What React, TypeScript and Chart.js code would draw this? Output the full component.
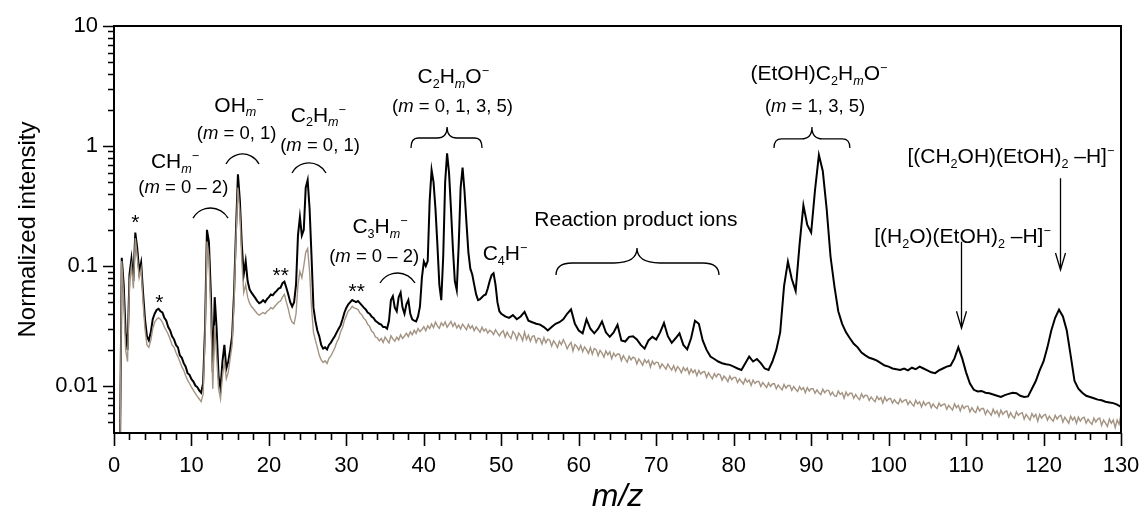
import React, { useEffect, useRef } from 'react';
import { Chart, registerables } from 'chart.js';

Chart.register(...registerables);

const FONT = '"Liberation Sans", Arial, Helvetica, sans-serif';

// m/z grids
const MZ_FINE_START = 0.5; // fine part 0.5..50, step 0.25 (both series)
const MZ_FINE_STEP = 0.25;
const MZ_BLACK_TAIL_START = 50.5; // black tail 50.5..130, step 0.5
const MZ_BLACK_TAIL_STEP = 0.5;
const MZ_GRAY_TAIL_START = 50.25; // gray tail 50.25..130, step 0.25
const MZ_GRAY_TAIL_STEP = 0.25;

// Black spectrum (with ethanol)
const blackFine = [
  0.002, 0.002,
  0.117, 0.07, 0.028, 0.02,
  0.085, 0.115, 0.075, 0.19,
  0.14, 0.09, 0.107, 0.06,
  0.036, 0.026, 0.024, 0.028,
  0.036, 0.04, 0.043, 0.044,
  0.042, 0.041, 0.037, 0.035,
  0.031, 0.029, 0.026, 0.0245,
  0.022, 0.021, 0.018, 0.0172,
  0.0155, 0.0145, 0.0128, 0.0124,
  0.0114, 0.0109, 0.0101, 0.0098,
  0.0092, 0.0088, 0.0105, 0.03,
  0.2, 0.16, 0.06, 0.013,
  0.055, 0.03, 0.012, 0.0095,
  0.016, 0.022, 0.014, 0.016,
  0.02, 0.026, 0.06, 0.2,
  0.58, 0.35, 0.15, 0.085,
  0.11, 0.075, 0.064, 0.06,
  0.057, 0.054, 0.051, 0.049,
  0.05, 0.052, 0.05, 0.053,
  0.055, 0.058, 0.057, 0.06,
  0.062, 0.065, 0.066, 0.072,
  0.074, 0.066, 0.058, 0.05,
  0.046, 0.05, 0.07, 0.18,
  0.256, 0.18, 0.2, 0.45,
  0.52, 0.3, 0.12, 0.045,
  0.035, 0.029, 0.026, 0.022,
  0.0205, 0.021, 0.0202, 0.022,
  0.023, 0.0245, 0.026, 0.028,
  0.03, 0.032, 0.036, 0.041,
  0.045, 0.048, 0.05, 0.052,
  0.051, 0.05, 0.051, 0.049,
  0.047, 0.045, 0.0435, 0.041,
  0.04, 0.038, 0.037, 0.035,
  0.034, 0.033, 0.0325, 0.031,
  0.031, 0.03, 0.035, 0.052,
  0.056, 0.045, 0.042, 0.055,
  0.06, 0.045, 0.04, 0.048,
  0.052, 0.04, 0.036, 0.035,
  0.0345, 0.038, 0.046, 0.08,
  0.109, 0.1, 0.11, 0.35,
  0.63, 0.5, 0.3, 0.15,
  0.07, 0.052, 0.12, 0.5,
  0.87, 0.6, 0.3, 0.14,
  0.075, 0.063, 0.15, 0.45,
  0.66, 0.42, 0.23, 0.13,
  0.095, 0.085, 0.07, 0.058,
  0.052, 0.053, 0.055, 0.057,
  0.058, 0.065, 0.075, 0.084,
  0.087, 0.07, 0.05, 0.042,
  0.04,
];

const blackTail = [
  0.038, 0.037, 0.039, 0.036, 0.038, 0.0415, 0.035, 0.034, 0.033, 0.0325,
  0.031, 0.029, 0.031, 0.033, 0.034, 0.036, 0.04, 0.0435, 0.033, 0.029,
  0.0275, 0.036, 0.03, 0.0275, 0.03, 0.0345, 0.028, 0.0257, 0.028, 0.0324,
  0.024, 0.0235, 0.0257, 0.026, 0.0244, 0.022, 0.0205, 0.024, 0.0257, 0.0244,
  0.028, 0.0335, 0.026, 0.0229, 0.025, 0.0275, 0.022, 0.0202, 0.025, 0.035,
  0.033, 0.024, 0.02, 0.0176, 0.0168, 0.016, 0.0155, 0.0152, 0.015, 0.0145,
  0.014, 0.0136, 0.0155, 0.0176, 0.016, 0.0168, 0.0155, 0.014, 0.0136, 0.016,
  0.02, 0.028, 0.068, 0.109, 0.078, 0.062, 0.15, 0.32, 0.22, 0.19,
  0.43, 0.84, 0.62, 0.3, 0.12, 0.068, 0.042, 0.033, 0.028, 0.025,
  0.0225, 0.021, 0.019, 0.018, 0.0172, 0.0168, 0.0163, 0.0155, 0.0148, 0.0145,
  0.014, 0.0138, 0.0136, 0.014, 0.0135, 0.0142, 0.0138, 0.0145, 0.014, 0.0135,
  0.013, 0.0128, 0.0135, 0.014, 0.0145, 0.0148, 0.017, 0.021, 0.017, 0.013,
  0.0105, 0.0093, 0.009, 0.0091, 0.0088, 0.0087, 0.0085, 0.0083, 0.0081, 0.0084,
  0.0086, 0.0088, 0.0087, 0.0083, 0.0081, 0.0082, 0.0095, 0.011, 0.0135, 0.016,
  0.021, 0.029, 0.037, 0.0433, 0.038, 0.029, 0.018, 0.011, 0.0095, 0.0088,
  0.0083, 0.0081, 0.0079, 0.0077, 0.0076, 0.0074, 0.0073, 0.0072, 0.007, 0.0067,
];

// Gray spectrum (background)
const grayFine = [
  0.002, 0.002,
  0.11, 0.055, 0.02, 0.016,
  0.075, 0.1, 0.065, 0.17,
  0.12, 0.08, 0.095, 0.05,
  0.03, 0.022, 0.021, 0.024,
  0.03, 0.034, 0.036, 0.037,
  0.036, 0.034, 0.031, 0.029,
  0.027, 0.0245, 0.022, 0.021,
  0.019, 0.0175, 0.016, 0.0145,
  0.0135, 0.0122, 0.0112, 0.0105,
  0.0098, 0.0092, 0.0087, 0.0082,
  0.0078, 0.0074, 0.0085, 0.025,
  0.16, 0.12, 0.04, 0.0095,
  0.032, 0.018, 0.0095, 0.0078,
  0.012, 0.016, 0.0115, 0.013,
  0.017, 0.022, 0.05, 0.17,
  0.45, 0.28, 0.11, 0.06,
  0.07, 0.055, 0.049, 0.046,
  0.044, 0.042, 0.04, 0.039,
  0.04, 0.041, 0.04, 0.042,
  0.043, 0.045, 0.044, 0.046,
  0.048, 0.05, 0.051, 0.055,
  0.058, 0.05, 0.044, 0.037,
  0.034, 0.033, 0.04, 0.07,
  0.09, 0.08, 0.1, 0.13,
  0.14, 0.09, 0.045, 0.028,
  0.024, 0.021, 0.018, 0.0165,
  0.0157, 0.0162, 0.0154, 0.017,
  0.0178, 0.0192, 0.0207, 0.0232,
  0.0248, 0.0283, 0.0306, 0.0352,
  0.0386, 0.0423, 0.0437, 0.0462,
  0.0448, 0.0441, 0.0434, 0.0405,
  0.0392, 0.0366, 0.0354, 0.0327,
  0.0314, 0.0287, 0.0278, 0.0256,
  0.0252, 0.0238, 0.0249, 0.0231,
  0.0256, 0.0241, 0.0229, 0.0262,
  0.0247, 0.0236, 0.0255, 0.0242,
  0.0268, 0.0249, 0.0261, 0.0275,
  0.0258, 0.0283, 0.0267, 0.0291,
  0.0274, 0.0301, 0.0284, 0.0296,
  0.0312, 0.0289, 0.0318, 0.0301,
  0.0329, 0.0306, 0.0341, 0.0317,
  0.0302, 0.0336, 0.0318, 0.0342,
  0.0309, 0.0327, 0.0345, 0.0314,
  0.0336, 0.0305, 0.0322, 0.0298,
  0.0328, 0.0311, 0.0294, 0.0326,
  0.0302, 0.0318, 0.0289, 0.0311,
  0.0296, 0.0281, 0.0309, 0.0287,
  0.0299, 0.0276, 0.0291, 0.0283,
  0.0268, 0.0294, 0.0277, 0.0262,
  0.0279,
];

const grayTail = [
  0.0289, 0.0256, 0.0281, 0.0262, 0.0249, 0.0284, 0.0271, 0.0243,
  0.0276, 0.0262, 0.0239, 0.0281, 0.0244, 0.0265, 0.0236, 0.0259,
  0.0262, 0.0231, 0.0251, 0.0247, 0.0224, 0.0253, 0.0229, 0.0246,
  0.0241, 0.0215, 0.0238, 0.0226, 0.0209, 0.0236, 0.0221, 0.0243,
  0.0226, 0.0204, 0.0219, 0.0231, 0.0196, 0.0222, 0.0214, 0.0199,
  0.0218, 0.0193, 0.0212, 0.0201, 0.0187, 0.0209, 0.0184, 0.0205,
  0.0201, 0.0179, 0.0198, 0.0188, 0.0174, 0.0196, 0.0182, 0.0193,
  0.0169, 0.0188, 0.0177, 0.0185, 0.0184, 0.0163, 0.0179, 0.0168,
  0.0158, 0.0177, 0.0165, 0.0174, 0.0171, 0.0153, 0.0168, 0.0159,
  0.0149, 0.0166, 0.0156, 0.0164, 0.0144, 0.0161, 0.0151, 0.0158,
  0.0157, 0.0141, 0.0153, 0.0146, 0.0138, 0.0152, 0.0143, 0.0136,
  0.0148, 0.0133, 0.0145, 0.0139, 0.0129, 0.0143, 0.0134, 0.0141,
  0.0126, 0.0138, 0.0129, 0.0136, 0.0122, 0.0135, 0.0126, 0.0131,
  0.0132, 0.0118, 0.0129, 0.0121, 0.0115, 0.0127, 0.0119, 0.0126,
  0.0124, 0.0112, 0.0121, 0.0116, 0.0109, 0.0121, 0.0113, 0.0118,
  0.0118, 0.0107, 0.0115, 0.0109, 0.0104, 0.0115, 0.0108, 0.0112,
  0.0101, 0.0112, 0.0105, 0.0109, 0.0109, 0.0099, 0.0107, 0.0102,
  0.0097, 0.0106, 0.0099, 0.0104, 0.0105, 0.0095, 0.0102, 0.0097,
  0.0093, 0.0103, 0.0096, 0.0101, 0.0101, 0.0092, 0.0099, 0.0094,
  0.009, 0.0099, 0.0093, 0.0097, 0.0088, 0.0097, 0.0091, 0.0095,
  0.0095, 0.0087, 0.0093, 0.0088, 0.0085, 0.0094, 0.0088, 0.0092,
  0.0092, 0.0084, 0.0089, 0.0083, 0.0082, 0.0091, 0.0085, 0.0088,
  0.0079, 0.0089, 0.0083, 0.0087, 0.0087, 0.0079, 0.0085, 0.008,
  0.0077, 0.0086, 0.008, 0.0084, 0.0083, 0.0076, 0.0081, 0.0077,
  0.0074, 0.0082, 0.0077, 0.008, 0.0072, 0.0081, 0.0075, 0.0078,
  0.0079, 0.0072, 0.0077, 0.0073, 0.0071, 0.0078, 0.0073, 0.0076,
  0.0077, 0.007, 0.0075, 0.0071, 0.0068, 0.0076, 0.0071, 0.0074,
  0.0067, 0.0074, 0.0069, 0.0072, 0.0073, 0.0066, 0.0071, 0.0067,
  0.0065, 0.0072, 0.0068, 0.007, 0.0071, 0.0064, 0.0069, 0.0066,
  0.0063, 0.0071, 0.0066, 0.0069, 0.0062, 0.0069, 0.0065, 0.0068,
  0.0068, 0.0061, 0.0066, 0.0062, 0.006, 0.0067, 0.0062, 0.0065,
  0.0065, 0.0058, 0.0063, 0.006, 0.0057, 0.0064, 0.0059, 0.0062,
  0.0056, 0.0063, 0.0058, 0.0061, 0.0062, 0.0055, 0.006, 0.0056,
  0.0054, 0.0061, 0.0057, 0.0059, 0.006, 0.0053, 0.0058, 0.0055,
  0.0052, 0.0059, 0.0055, 0.0058, 0.0051, 0.0058, 0.0054, 0.0057,
  0.0058, 0.0052, 0.0056, 0.0053, 0.0051, 0.0057, 0.0053, 0.0056,
  0.0057, 0.005, 0.0055, 0.0052, 0.0049, 0.0056, 0.0052, 0.0055,
  0.0049, 0.0055, 0.0051, 0.0054, 0.0055, 0.0049, 0.0053, 0.005,
  0.0048, 0.0054, 0.005, 0.0053, 0.0054, 0.0047, 0.0052, 0.0049,
  0.0046, 0.0053, 0.0049, 0.0052, 0.0045, 0.0052, 0.0048, 0.0058,
];

// Axes
const X_MIN = 0;
const X_MAX = 130;
const Y_MIN = 0.00406;
const Y_MAX = 10;
const xTickValues = [0, 10, 20, 30, 40, 50, 60, 70, 80, 90, 100, 110, 120, 130];
const yTickValues = [0.01, 0.1, 1, 10];
const yTickLabels = ['0.01', '0.1', '1', '10'];
const xTitle = 'm/z';
const yTitle = 'Normalized intensity';

// Annotations (positions in data units: m/z, intensity at text baseline)
type Run = [string, string];
const formulaLabels: { runs: Run[]; m: number; v: number }[] = [
  { runs: [['CH', 'n'], ['m', 'si'], ['\u2212', 'p']], m: 7.88, v: 0.652 },
  { runs: [['OH', 'n'], ['m', 'si'], ['\u2212', 'p']], m: 16.14, v: 1.93 },
  { runs: [['C', 'n'], ['2', 's'], ['H', 'n'], ['m', 'si'], ['\u2212', 'p']], m: 26.38, v: 1.594 },
  { runs: [['C', 'n'], ['3', 's'], ['H', 'n'], ['m', 'si'], ['\u2212', 'p']], m: 34.34, v: 0.187 },
  { runs: [['C', 'n'], ['2', 's'], ['H', 'n'], ['m', 'si'], ['O', 'n'], ['\u2212', 'p']], m: 43.8, v: 3.33 },
  { runs: [['C', 'n'], ['4', 's'], ['H', 'n'], ['\u2212', 'p']], m: 50.48, v: 0.112 },
  { runs: [['Reaction product ions', 'n']], m: 67.37, v: 0.2154 },
  { runs: [['(EtOH)C', 'n'], ['2', 's'], ['H', 'n'], ['m', 'si'], ['O', 'n'], ['\u2212', 'p']], m: 91.0, v: 3.55 },
  { runs: [['[(CH', 'n'], ['2', 's'], ['OH)(EtOH)', 'n'], ['2', 's'], [' \u2013H]', 'n'], ['\u2212', 'p']], m: 115.78, v: 0.718 },
  { runs: [['[(H', 'n'], ['2', 's'], ['O)(EtOH)', 'n'], ['2', 's'], [' \u2013H]', 'n'], ['\u2212', 'p']], m: 109.54, v: 0.1546 },
];

const rangeLabels: { runs: Run[]; m: number; v: number }[] = [
  { runs: [['(', 'n'], ['m', 'i'], [' = 0 \u2013 2)', 'n']], m: 8.95, v: 0.408 },
  { runs: [['(', 'n'], ['m', 'i'], [' = 0, 1)', 'n']], m: 15.84, v: 1.144 },
  { runs: [['(', 'n'], ['m', 'i'], [' = 0, 1)', 'n']], m: 26.6, v: 0.909 },
  { runs: [['(', 'n'], ['m', 'i'], [' = 0 \u2013 2)', 'n']], m: 33.59, v: 0.1086 },
  { runs: [['(', 'n'], ['m', 'i'], [' = 0, 1, 3, 5)', 'n']], m: 43.7, v: 1.93 },
  { runs: [['(', 'n'], ['m', 'i'], [' = 1, 3, 5)', 'n']], m: 90.5, v: 1.93 },
];

const starLabels = [
  { t: '*', m: 2.75, v: 0.203 },
  { t: '*', m: 5.84, v: 0.044 },
  { t: '**', m: 21.53, v: 0.0736 },
  { t: '**', m: 31.33, v: 0.0546 },
];

// arcs: [mLeft, mRight, vEnds, vTop]
const arcs = [
  [10.2, 14.72, 0.251, 0.304],
  [14.46, 18.72, 0.708, 0.858],
  [22.98, 27.37, 0.596, 0.722],
  [34.34, 38.86, 0.0722, 0.0874],
];

// braces: [mLeft, mRight, mTip, vEnds, vFlat, vTip]
const braces = [
  [38.34, 47.51, 43.0, 0.962, 1.166, 1.44],
  [57.06, 78.1, 67.52, 0.0841, 0.106, 0.141],
  [85.2, 95.0, 90.1, 0.962, 1.145, 1.44],
];

// arrows: [m, vFrom, vTo]
const arrows = [
  [122.13, 0.538, 0.0926],
  [109.35, 0.1594, 0.0303],
];

function toPoints(fine: number[], tail: number[], tailStart: number, tailStep: number) {
  const pts: { x: number; y: number }[] = [];
  fine.forEach((v, i) => pts.push({ x: MZ_FINE_START + i * MZ_FINE_STEP, y: v }));
  tail.forEach((v, i) => pts.push({ x: tailStart + i * tailStep, y: v }));
  return pts;
}

function runFont(style: string, size: number) {
  const small = style.includes('s') || style.includes('p');
  const it = style.includes('i');
  const s = small ? size * 0.6 : size;
  return `${it ? 'italic ' : ''}${s}px ${FONT}`;
}

function drawRich(ctx: CanvasRenderingContext2D, runs: Run[], cx: number, baseY: number, size: number) {
  let total = 0;
  const widths = runs.map(([t, st]) => {
    ctx.font = runFont(st, size);
    const w = ctx.measureText(t).width;
    total += w;
    return w;
  });
  let x = cx - total / 2;
  ctx.textAlign = 'left';
  ctx.textBaseline = 'alphabetic';
  runs.forEach(([t, st], i) => {
    ctx.font = runFont(st, size);
    let dy = 0;
    if (st.includes('s')) dy = size * 0.22;
    else if (st.includes('p')) dy = -size * 0.38;
    ctx.fillText(t, x, baseY + dy);
    x += widths[i];
  });
}

const decorPlugin = {
  id: 'decor',
  afterDraw(chart: any) {
    const { ctx, chartArea } = chart;
    const xs = chart.scales.x;
    const ys = chart.scales.y;
    const X = (m: number) => xs.getPixelForValue(m);
    const Y = (v: number) => ys.getPixelForValue(v);
    ctx.save();
    ctx.fillStyle = '#000';
    ctx.strokeStyle = '#000';

    // frame
    ctx.lineWidth = 2;
    ctx.strokeRect(chartArea.left, chartArea.top, chartArea.right - chartArea.left, chartArea.bottom - chartArea.top);

    // y ticks (major and minor)
    ctx.lineWidth = 1.6;
    ctx.beginPath();
    for (let d = -3; d <= 1; d++) {
      for (let k = 1; k <= 9; k++) {
        const v = k * Math.pow(10, d);
        if (v < Y_MIN || v > Y_MAX * 1.0001) continue;
        const py = Math.round(Y(v)) + 0.5;
        const len = k === 1 ? 11 : 6;
        ctx.moveTo(chartArea.left - len, py);
        ctx.lineTo(chartArea.left, py);
      }
    }
    // x ticks
    for (let m = X_MIN; m <= X_MAX; m += 2) {
      const px = Math.round(X(m)) + 0.5;
      const len = m % 10 === 0 ? 13 : 7;
      ctx.moveTo(px, chartArea.bottom);
      ctx.lineTo(px, chartArea.bottom + len);
    }
    ctx.stroke();

    // axis titles
    ctx.textAlign = 'center';
    ctx.textBaseline = 'middle';
    ctx.font = `24px ${FONT}`;
    ctx.save();
    ctx.translate(28, (chartArea.top + chartArea.bottom) / 2);
    ctx.rotate(-Math.PI / 2);
    ctx.fillText(yTitle, 0, 0);
    ctx.restore();
    ctx.font = `italic 32px ${FONT}`;
    ctx.textBaseline = 'alphabetic';
    ctx.fillText(xTitle, (chartArea.left + chartArea.right) / 2, chartArea.bottom + 73);

    // labels
    formulaLabels.forEach((l) => drawRich(ctx, l.runs, X(l.m), Y(l.v), 21));
    rangeLabels.forEach((l) => drawRich(ctx, l.runs, X(l.m), Y(l.v), 18.5));
    ctx.font = `21px ${FONT}`;
    ctx.textAlign = 'center';
    ctx.textBaseline = 'alphabetic';
    starLabels.forEach((s) => ctx.fillText(s.t, X(s.m), Y(s.v)));

    // arcs
    ctx.lineWidth = 1.3;
    arcs.forEach(([m1, m2, vEnd, vTop]) => {
      const x1 = X(m1), x2 = X(m2), y1 = Y(vEnd), yt = Y(vTop);
      const xm = (x1 + x2) / 2;
      const h = (x2 - x1) / 2;
      const s = y1 - yt;
      const R = (h * h + s * s) / (2 * s);
      const yc = yt + R;
      const a1 = Math.atan2(y1 - yc, x1 - xm);
      const a2 = Math.atan2(y1 - yc, x2 - xm);
      ctx.beginPath();
      ctx.arc(xm, yc, R, a1, a2, false);
      ctx.stroke();
    });

    // braces
    braces.forEach(([mL, mR, mT, vE, vF, vT]) => {
      const xL = X(mL), xR = X(mR), xT = X(mT);
      const yE = Y(vE), yF = Y(vF), yT = Y(vT);
      const hw = (xR - xL) / 2;
      const hook = hw * 0.2;
      const tip = hw * 0.28;
      ctx.beginPath();
      ctx.moveTo(xL, yE);
      ctx.quadraticCurveTo(xL, yF, xL + hook, yF);
      ctx.lineTo(xT - tip, yF);
      ctx.quadraticCurveTo(xT, yF, xT, yT);
      ctx.quadraticCurveTo(xT, yF, xT + tip, yF);
      ctx.lineTo(xR - hook, yF);
      ctx.quadraticCurveTo(xR, yF, xR, yE);
      ctx.stroke();
    });

    // arrows
    ctx.lineWidth = 1.3;
    arrows.forEach(([m, vF, vT]) => {
      const px = Math.round(X(m)) + 0.5;
      const y1 = Y(vF), y2 = Y(vT);
      ctx.beginPath();
      ctx.moveTo(px, y1);
      ctx.lineTo(px, y2);
      ctx.moveTo(px - 5, y2 - 17);
      ctx.lineTo(px, y2);
      ctx.lineTo(px + 5, y2 - 17);
      ctx.stroke();
    });

    ctx.restore();
  },
};

export default function App() {
  const ref = useRef<HTMLCanvasElement | null>(null);
  useEffect(() => {
    if (!ref.current) return;
    const chart = new Chart(ref.current, {
      type: 'line',
      data: {
        datasets: [
          {
            data: toPoints(grayFine, grayTail, MZ_GRAY_TAIL_START, MZ_GRAY_TAIL_STEP),
            borderColor: '#a39382',
            borderWidth: 1.4,
            pointRadius: 0,
            tension: 0,
          },
          {
            data: toPoints(blackFine, blackTail, MZ_BLACK_TAIL_START, MZ_BLACK_TAIL_STEP),
            borderColor: '#000000',
            borderWidth: 2,
            pointRadius: 0,
            tension: 0,
          },
        ],
      },
      options: {
        animation: false,
        responsive: true,
        maintainAspectRatio: false,
        devicePixelRatio: 1,
        layout: { padding: { left: 0, top: 26, right: 20, bottom: 0 } },
        plugins: { legend: { display: false }, tooltip: { enabled: false } },
        scales: {
          x: {
            type: 'linear',
            min: X_MIN,
            max: X_MAX,
            grid: { display: false, drawTicks: false },
            border: { display: false },
            afterBuildTicks: (s: any) => {
              s.ticks = xTickValues.map((v) => ({ value: v }));
            },
            ticks: {
              padding: 20,
              color: '#000',
              font: { size: 22, family: FONT },
              maxRotation: 0,
              autoSkip: false,
              callback: (v: any) => String(v),
            },
            afterFit: (s: any) => {
              s.height = 82;
              s.paddingLeft = 0;
              s.paddingRight = 0;
            },
          },
          y: {
            type: 'logarithmic',
            min: Y_MIN,
            max: Y_MAX,
            grid: { display: false, drawTicks: false },
            border: { display: false },
            afterBuildTicks: (s: any) => {
              s.ticks = yTickValues.map((v) => ({ value: v }));
            },
            ticks: {
              padding: 16,
              color: '#000',
              font: { size: 22, family: FONT },
              autoSkip: false,
              callback: (v: any) => {
                const i = yTickValues.findIndex((t) => Math.abs(t - v) / t < 1e-6);
                return i >= 0 ? yTickLabels[i] : '';
              },
            },
            afterFit: (s: any) => {
              s.width = 114;
              s.paddingTop = 0;
              s.paddingBottom = 0;
            },
          },
        },
      },
      plugins: [decorPlugin],
    } as any);
    return () => chart.destroy();
  }, []);
  return (
    <div style={{ position: 'fixed', left: 0, top: 0, width: 1141, height: 515, background: '#fff' }}>
      <canvas ref={ref} />
    </div>
  );
}
